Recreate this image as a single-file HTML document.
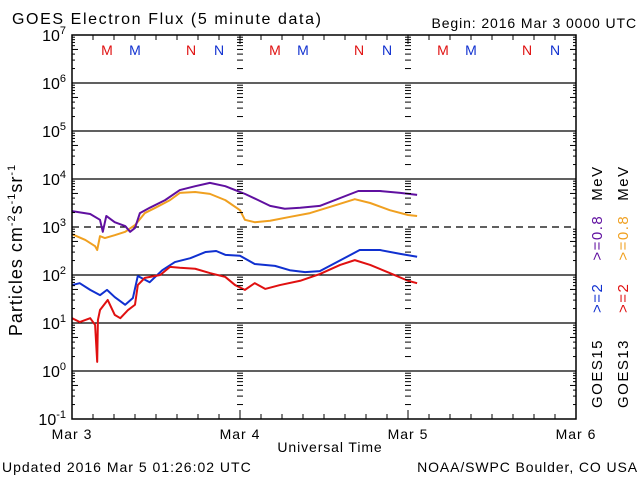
<!DOCTYPE html>
<html><head><meta charset="utf-8"><style>
body{margin:0;background:#fff;}
svg{display:block;font-family:"Liberation Sans","DejaVu Sans",sans-serif;}
</style></head><body>
<svg id="chart" width="640" height="480" viewBox="0 0 640 480">
<text x="12" y="24" font-size="16" letter-spacing="1.6">GOES Electron Flux (5 minute data)</text>
<text x="637" y="28" font-size="14" letter-spacing="0.9" text-anchor="end">Begin: 2016 Mar 3 0000 UTC</text>
<text x="2" y="472" font-size="14" letter-spacing="1">Updated 2016 Mar  5 01:26:02 UTC</text>
<text x="638" y="472" font-size="14" letter-spacing="0.9" text-anchor="end">NOAA/SWPC Boulder, CO USA</text>
<text x="330" y="452" font-size="14" letter-spacing="0.9" text-anchor="middle">Universal Time</text>
<text transform="translate(22,250) rotate(-90)" font-size="18" letter-spacing="1" text-anchor="middle">Particles cm<tspan dy="-7" font-size="11">-2</tspan><tspan dy="7">s</tspan><tspan dy="-7" font-size="11">-1</tspan><tspan dy="7">sr</tspan><tspan dy="-7" font-size="11">-1</tspan></text>
<g id="grid"></g><g id="series"></g><g id="axes"></g>
<g font-size="15" letter-spacing="1.5">
<text transform="translate(602,408) rotate(-90)"><tspan fill="#000">GOES15</tspan><tspan dx="26" fill="#1030d0">&gt;=2</tspan><tspan dx="22" fill="#6010a0">&gt;=0.8</tspan><tspan dx="14" fill="#000">MeV</tspan></text>
<text transform="translate(628,408) rotate(-90)"><tspan fill="#000">GOES13</tspan><tspan dx="26" fill="#e01010">&gt;=2</tspan><tspan dx="22" fill="#f0a020">&gt;=0.8</tspan><tspan dx="14" fill="#000">MeV</tspan></text>
</g>
</svg>
<script>
const dayLabels=["Mar 3","Mar 4","Mar 5","Mar 6"];
const decadeExps=[7,6,5,4,3,2,1,0,-1];
const purpleHours=[0,2.6,4,4.4,4.9,6.1,7.6,8.3,9,9.7,11.1,13.3,15.4,17.6,19.7,21.9,23.3,24.7,26.6,28.3,30.4,32.6,35.4,40.9,44,46.9,49.3];
const purpleLog=[3.33,3.27,3.15,2.90,3.23,3.10,3.02,2.90,2.98,3.29,3.40,3.56,3.77,3.85,3.92,3.85,3.77,3.69,3.56,3.44,3.38,3.40,3.44,3.75,3.75,3.71,3.67];
const orangeHours=[0,1.9,3.3,3.6,4,4.7,6.1,7.6,9,10.4,11.9,14,15.4,17.6,19.7,21.9,24,24.7,26.1,28.3,31.1,34,36.9,40.4,42.6,45.4,48,49.3];
const orangeLog=[2.85,2.73,2.60,2.52,2.81,2.77,2.83,2.90,3.04,3.29,3.40,3.56,3.71,3.73,3.69,3.56,3.35,3.15,3.10,3.13,3.21,3.29,3.42,3.58,3.50,3.35,3.25,3.23];
const blueHours=[0,1.1,2.6,4,5,6.1,7.6,8.7,9.4,11.1,12.9,14.7,16.9,19.1,20.6,21.9,24,26.1,29,31.1,33.3,35.4,37.6,41.1,44,46.9,49.3];
const blueLog=[1.79,1.83,1.69,1.58,1.69,1.54,1.38,1.52,1.98,1.85,2.10,2.27,2.35,2.48,2.50,2.42,2.40,2.23,2.19,2.10,2.06,2.08,2.25,2.52,2.52,2.44,2.38];
const redHours=[0,1.1,2.6,3.3,3.6,3.7,4,5.1,6.1,6.9,8,9,9.4,10.4,12.6,14,15.4,17.6,19.7,21.9,23.3,24.7,26.1,27.6,29.7,32.6,35.4,38.3,40.4,42.6,45.4,48,49.3];
const redLog=[1.10,1.02,1.10,0.96,0.19,1.06,1.27,1.48,1.17,1.10,1.27,1.38,1.79,1.94,2.00,2.17,2.15,2.13,2.04,1.96,1.79,1.69,1.83,1.71,1.79,1.88,2.02,2.21,2.31,2.21,2.04,1.88,1.83];
const markerHours=[5,9,17,21];
const markerLetters=["M","M","N","N"];

const L=72,R=576,T=35,B=419;
const xs=h=>L+h*(R-L)/72;
const ys=e=>T+(7-e)*(B-T)/8;
const NS="http://www.w3.org/2000/svg";
function mk(tag,attrs,parent){const e=document.createElementNS(NS,tag);for(const k in attrs)e.setAttribute(k,attrs[k]);parent.appendChild(e);return e;}
const grid=document.getElementById('grid'),axes=document.getElementById('axes'),ser=document.getElementById('series');

decadeExps.forEach(e=>{
  const y=ys(e);
  if(e<7&&e>-1){
    const ln=mk('line',{x1:L,x2:R,y1:y,y2:y,stroke:'#000','stroke-width':1.2,'stroke-dasharray':e===3?'7,5':'none'},grid);
    
    
  }
  const t=mk('text',{x:66,y:y+6,'font-size':16,'text-anchor':'end'},axes);
  
  
  t.innerHTML='10<tspan dy="-7" font-size="11">'+e+'</tspan>';
  if(e>-1){
    for(let m=2;m<=9;m++){
      const yy=ys(e-1+Math.log10(m));
      const len=m===5?6:3;
      mk('line',{x1:L,x2:L+len,y1:yy,y2:yy,stroke:'#000'},axes);
      mk('line',{x1:R-len,x2:R,y1:yy,y2:yy,stroke:'#000'},axes);
      [1,2].forEach(d=>{const x=xs(d*24);mk('line',{x1:x-3,x2:x+3,y1:yy,y2:yy,stroke:'#000'},axes);});
    }
  }
});
const fr=mk('rect',{x:L,y:T,width:R-L,height:B-T,fill:'none',stroke:'#000','stroke-width':1.5},axes);


for(let h=0;h<=72;h+=3){
  const x=xs(h),len=h%24===0?9:5;
  mk('line',{x1:x,x2:x,y1:B,y2:B-len,stroke:'#000'},axes);
  mk('line',{x1:x,x2:x,y1:T,y2:T+len,stroke:'#000'},axes);
}
dayLabels.forEach((d,i)=>{
  const t=mk('text',{x:xs(i*24),y:439,'font-size':14,'letter-spacing':1,'text-anchor':'middle'},axes);
  
  
  t.textContent=d;
});
[0,1,2].forEach(day=>{
  markerHours.forEach((h,i)=>{
    const t=mk('text',{x:xs(day*24+h),y:55,'font-size':14,'text-anchor':'middle',fill:i%2===0?'#e01010':'#1030d0'},axes);
    
    
    t.textContent=markerLetters[i];
  });
});
function series(hours,logs,color,name){
  const p=mk('polyline',{points:hours.map((h,i)=>xs(h)+','+ys(logs[i])).join(' '),fill:'none',stroke:color,'stroke-width':2,'stroke-linejoin':'round'},ser);
  
  
}
series(orangeHours,orangeLog,'#f0a020','series-goes13-0p8mev');
series(purpleHours,purpleLog,'#6010a0','series-goes15-0p8mev');
series(blueHours,blueLog,'#1030d0','series-goes15-2mev');
series(redHours,redLog,'#e01010','series-goes13-2mev');
</script>
</body></html>
